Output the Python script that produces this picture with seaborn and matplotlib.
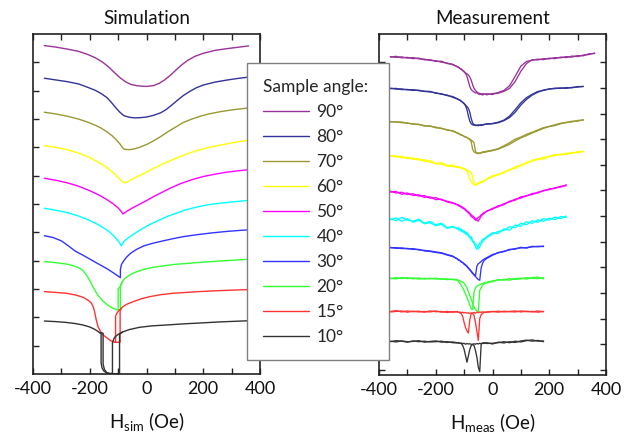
import matplotlib
matplotlib.use("Agg")
import matplotlib.pyplot as plt
from matplotlib.lines import Line2D
from matplotlib.ticker import MultipleLocator, FixedLocator
import numpy as np
import pandas as pd
import seaborn as sns

# ---------------------------------------------------------------- legend / colours
ANGLES = ["90°", "80°", "70°", "60°", "50°", "40°", "30°", "20°", "15°", "10°"]
COLORS = ["#993399", "#333399", "#999933", "#ffff00", "#ff00ff",
          "#00ffff", "#3333ff", "#33ff33", "#ff3333", "#333333"]

# ---------------------------------------------------------------- simulated curves (field in Oe, signal in offset units)
sim90_h = [-360, -320, -280, -240, -210, -180, -155, -135, -115, -95, -75, -55, -30, 0,
           25, 45, 65, 85, 105, 125, 145, 170, 200, 240, 280, 320, 360]
sim90_s = [11.59, 11.54, 11.47, 11.39, 11.29, 11.16, 11.01, 10.85, 10.66, 10.47, 10.32, 10.22, 10.17, 10.15,
           10.18, 10.26, 10.39, 10.55, 10.74, 10.92, 11.07, 11.21, 11.32, 11.42, 11.48, 11.53, 11.58]

sim80_h = [-360, -320, -280, -240, -210, -180, -160, -140, -125, -110, -95, -80, -60, -40, -20, 0,
           25, 50, 70, 90, 110, 130, 150, 175, 200, 240, 280, 320, 360]
sim80_s = [10.44, 10.38, 10.32, 10.24, 10.13, 10.01, 9.9, 9.76, 9.6, 9.42, 9.25, 9.12, 9.06, 9.04, 9.05, 9.07,
           9.13, 9.22, 9.34, 9.5, 9.67, 9.83, 9.96, 10.1, 10.2, 10.3, 10.37, 10.43, 10.48]

sim70_h = [-360, -320, -280, -240, -210, -180, -160, -140, -120, -105, -92, -82, -78, -60, -45, -25, 0,
           25, 50, 75, 100, 130, 160, 190, 220, 260, 300, 340, 360]
sim70_s = [9.24, 9.18, 9.1, 9.0, 8.9, 8.78, 8.68, 8.55, 8.4, 8.25, 8.1, 7.96, 7.93, 7.92, 7.94, 8.0, 8.1,
           8.23, 8.38, 8.55, 8.7, 8.88, 9.0, 9.1, 9.18, 9.26, 9.32, 9.37, 9.39]

sim60_h = [-360, -320, -280, -240, -200, -170, -145, -125, -110, -98, -88, -80, -74, -60, -40, -15,
           10, 40, 70, 100, 130, 160, 200, 240, 280, 320, 360]
sim60_s = [8.06, 8.0, 7.92, 7.8, 7.64, 7.48, 7.32, 7.17, 7.04, 6.92, 6.81, 6.76, 6.75, 6.83, 6.93, 7.05,
           7.18, 7.33, 7.47, 7.6, 7.72, 7.83, 7.95, 8.04, 8.12, 8.19, 8.25]

sim50_h = [-360, -320, -280, -240, -200, -170, -140, -115, -100, -90, -83, -70, -50, -25, 0,
           30, 60, 90, 120, 160, 200, 240, 280, 320, 360]
sim50_s = [6.91, 6.84, 6.75, 6.63, 6.47, 6.33, 6.16, 5.99, 5.86, 5.75, 5.65, 5.74, 5.86, 5.99, 6.12,
           6.29, 6.44, 6.59, 6.72, 6.86, 6.97, 7.05, 7.12, 7.17, 7.21]

sim40_h = [-360, -320, -280, -240, -200, -170, -145, -125, -110, -100, -93, -89, -85, -78, -65, -45, -20,
           10, 40, 70, 100, 140, 180, 220, 260, 300, 360]
sim40_s = [5.85, 5.78, 5.7, 5.58, 5.42, 5.27, 5.12, 4.97, 4.82, 4.7, 4.6, 4.52, 4.6, 4.7, 4.8, 4.94, 5.1,
           5.27, 5.41, 5.55, 5.66, 5.8, 5.9, 5.98, 6.03, 6.07, 6.13]

sim30_h = [-360, -330, -300, -275, -250, -225, -195, -165, -140, -118, -105, -92, -92, -88, -80, -70, -55,
           -35, -10, 20, 50, 90, 130, 180, 230, 280, 330, 360]
sim30_s = [4.88, 4.82, 4.7, 4.52, 4.33, 4.2, 4.03, 3.86, 3.72, 3.58, 3.49, 3.4, 3.7, 3.87, 4.0, 4.13, 4.27,
           4.4, 4.52, 4.61, 4.68, 4.77, 4.85, 4.92, 4.98, 5.03, 5.07, 5.09]

# low angles switch irreversibly: a full sweep plus the part of the return sweep that differs
sim20_h = [-360, -320, -282, -260, -240, -225, -212, -200, -190, -180, -168, -153, -135, -118, -105, -100,
           -100, -96, -92, -86, -78, -70, -55, -35, -10, 20, 60, 100, 150, 200, 260, 310, 360]
sim20_s = [3.97, 3.93, 3.88, 3.83, 3.76, 3.66, 3.5, 3.3, 3.1, 2.92, 2.74, 2.57, 2.42, 2.32, 2.27, 2.26,
           3.0, 3.05, 3.1, 3.25, 3.36, 3.42, 3.52, 3.61, 3.69, 3.76, 3.82, 3.87, 3.91, 3.95, 3.99, 4.02, 4.05]
sim20_ret_h = [-86, -92, -92, -100]
sim20_ret_s = [3.25, 3.1, 2.26, 2.26]

sim15_h = [-360, -320, -282, -250, -224, -205, -194, -187, -183, -178, -171, -162, -153, -140, -130, -120,
           -112, -109, -109, -103, -95, -88, -83, -70, -48, -20, 11, 50, 93, 140, 187, 250, 300, 360]
sim15_s = [2.91, 2.88, 2.85, 2.79, 2.71, 2.6, 2.5, 2.35, 2.2, 1.95, 1.67, 1.5, 1.38, 1.28, 1.2, 1.15,
           1.12, 1.15, 2.05, 2.17, 2.26, 2.33, 2.38, 2.46, 2.55, 2.65, 2.73, 2.8, 2.85, 2.88, 2.91, 2.94, 2.96, 2.98]
sim15_ret_h = [-88, -93, -93, -112]
sim15_ret_s = [2.33, 2.24, 1.12, 1.12]

sim10_h = [-360, -320, -282, -250, -224, -200, -183, -172, -165, -160, -160, -157, -150, -140, -130, -124,
           -120, -120, -116, -112, -100, -83, -60, -24, 20, 70, 130, 187, 260, 310, 360]
sim10_s = [1.87, 1.85, 1.82, 1.78, 1.73, 1.66, 1.58, 1.51, 1.46, 1.42, 0.4, 0.22, 0.1, 0.04, 0.02, 0.02,
           0.05, 1.1, 1.22, 1.3, 1.4, 1.49, 1.57, 1.65, 1.7, 1.73, 1.77, 1.8, 1.84, 1.86, 1.88]
sim10_ret_h = [-83, -95, -95, -105, -125, -140, -148, -153, -153, -165]
sim10_ret_s = [1.49, 1.41, 0.03, 0.01, 0.0, 0.05, 0.15, 0.35, 1.44, 1.46]

# ---------------------------------------------------------------- measured loops (two sweep directions)
meas_field = [-360, -340, -320, -300, -280, -260, -240, -220, -200, -180, -160, -140,
              -125, -120, -115, -110, -105, -100, -95, -90, -85, -80, -75, -70, -65, -60, -55, -50, -45, -40, -35, -30,
              -20, 0, 20, 40, 60, 80, 100, 120, 140, 160, 180, 200, 220, 240, 260, 280, 300, 320, 340, 360]

meas90_a = [12.22, 12.19, 12.21, 12.16, 12.18, 12.13, 12.12, 12.07, 12.06, 12.0, 11.97, 11.9,
            11.84, 11.8, 11.77, 11.72, 11.69, 11.62, 11.56, 11.45, 11.25, 11.05, 10.93, 10.88, 10.84, 10.8,
            10.82, 10.76, 10.79, 10.74, 10.78, 10.75,
            10.77, 10.74, 10.82, 10.9, 11.08, 11.45, 11.85, 12.03, 12.08, 12.12, 12.1, 12.16, 12.14, 12.2,
            12.18, 12.24, 12.22, 12.28, 12.3, 12.36]
meas90_b = [12.2, 12.23, 12.17, 12.19, 12.14, 12.16, 12.09, 12.1, 12.03, 12.04, 11.95, 11.92,
            11.82, 11.81, 11.75, 11.74, 11.67, 11.64, 11.58, 11.55, 11.5, 11.42, 11.3, 11.12, 10.98, 10.9,
            10.84, 10.8, 10.74, 10.77, 10.72, 10.76,
            10.73, 10.78, 10.79, 10.86, 10.98, 11.25, 11.65, 11.95, 12.1, 12.09, 12.14, 12.13, 12.18, 12.17,
            12.22, 12.2, 12.26, 12.25, 12.33, 12.34]

meas80_a = [10.99, 10.95, 10.96, 10.92, 10.93, 10.89, 10.87, 10.86, 10.79, 10.77, 10.70, 10.66,
            10.58, 10.55, 10.52, 10.48, 10.43, 10.38, 10.3, 10.15, 9.9, 9.7, 9.6, 9.56, 9.54, 9.55,
            9.53, 9.56, 9.54, 9.57, 9.55, 9.58,
            9.58, 9.61, 9.66, 9.74, 9.9, 10.15, 10.42, 10.62, 10.75, 10.86, 10.9, 10.96, 10.97, 11.0,
            10.98, 11.02, 11.03, 11.06]
meas80_b = [10.97, 10.98, 10.93, 10.94, 10.9, 10.91, 10.86, 10.84, 10.81, 10.75, 10.72, 10.63,
            10.57, 10.54, 10.53, 10.47, 10.44, 10.39, 10.33, 10.27, 10.2, 10.05, 9.8, 9.63, 9.57, 9.53,
            9.55, 9.52, 9.55, 9.53, 9.56, 9.56,
            9.6, 9.6, 9.64, 9.72, 9.84, 10.05, 10.33, 10.55, 10.72, 10.83, 10.92, 10.95, 10.99, 10.98,
            11.01, 11.0, 11.05, 11.05]

meas70_a = [9.69, 9.66, 9.67, 9.62, 9.6, 9.57, 9.53, 9.5, 9.47, 9.41, 9.37, 9.31,
            9.24, 9.23, 9.19, 9.17, 9.14, 9.11, 9.09, 9.06, 9.02, 8.98, 8.9, 8.6, 8.5, 8.47,
            8.45, 8.47, 8.44, 8.48, 8.49, 8.51,
            8.53, 8.57, 8.63, 8.74, 8.86, 9.0, 9.08, 9.19, 9.27, 9.36, 9.45, 9.5, 9.56, 9.62,
            9.64, 9.7, 9.7, 9.76]
meas70_b = [9.67, 9.68, 9.64, 9.63, 9.58, 9.58, 9.51, 9.52, 9.44, 9.43, 9.35, 9.33,
            9.25, 9.21, 9.2, 9.15, 9.15, 9.1, 9.08, 9.07, 9.03, 9.0, 8.96, 8.92, 8.86, 8.52,
            8.45, 8.43, 8.46, 8.45, 8.5, 8.48,
            8.51, 8.55, 8.61, 8.7, 8.8, 8.93, 9.05, 9.14, 9.24, 9.33, 9.42, 9.49, 9.53, 9.6,
            9.66, 9.67, 9.73, 9.74]

meas60_a = [8.36, 8.3, 8.33, 8.24, 8.27, 8.18, 8.2, 8.1, 8.05, 8.08, 7.97, 7.99,
            7.9, 7.94, 7.88, 7.9, 7.84, 7.86, 7.8, 7.74, 7.62, 7.45, 7.33, 7.27, 7.24, 7.2,
            7.25, 7.3, 7.27, 7.35, 7.32, 7.4,
            7.44, 7.58, 7.6, 7.72, 7.78, 7.93, 7.95, 8.1, 8.14, 8.24, 8.22, 8.33, 8.36, 8.42,
            8.4, 8.48, 8.47, 8.54]
meas60_b = [8.33, 8.35, 8.27, 8.29, 8.21, 8.24, 8.13, 8.16, 8.04, 8.03, 7.95, 7.93,
            7.92, 7.89, 7.91, 7.86, 7.88, 7.83, 7.82, 7.79, 7.77, 7.73, 7.7, 7.55, 7.3, 7.2,
            7.22, 7.26, 7.32, 7.3, 7.37, 7.36,
            7.46, 7.52, 7.64, 7.68, 7.82, 7.86, 8.0, 8.05, 8.18, 8.2, 8.3, 8.31, 8.4, 8.38,
            8.45, 8.44, 8.52, 8.5]

meas50_a = [6.97, 6.9, 6.93, 6.84, 6.87, 6.78, 6.8, 6.7, 6.72, 6.63, 6.58, 6.52,
            6.45, 6.44, 6.37, 6.38, 6.3, 6.31, 6.22, 6.2, 6.12, 6.08, 5.98, 5.95, 5.9, 5.84,
            5.9, 5.95, 5.98, 6.05, 6.08, 6.14,
            6.18, 6.3, 6.36, 6.48, 6.55, 6.66, 6.7, 6.8, 6.84, 6.93, 6.98, 7.06, 7.08, 7.16, 7.18]
meas50_b = [6.93, 6.96, 6.85, 6.9, 6.8, 6.83, 6.73, 6.75, 6.64, 6.66, 6.55, 6.5,
            6.44, 6.4, 6.41, 6.34, 6.35, 6.27, 6.27, 6.18, 6.17, 6.1, 6.05, 6.0, 5.96, 5.9,
            5.83, 5.8, 5.9, 6.0, 6.06, 6.1,
            6.2, 6.27, 6.4, 6.44, 6.58, 6.62, 6.75, 6.78, 6.88, 6.9, 7.0, 7.03, 7.1, 7.13, 7.22]

meas40_a = [5.9, 5.82, 5.95, 5.84, 5.8, 5.88, 5.72, 5.79, 5.66, 5.72, 5.55, 5.6,
            5.5, 5.56, 5.44, 5.5, 5.38, 5.42, 5.3, 5.36, 5.22, 5.18, 5.1, 5.0, 4.95, 4.8,
            4.7, 4.85, 4.95, 4.98, 5.1, 5.06,
            5.2, 5.35, 5.32, 5.5, 5.45, 5.65, 5.6, 5.78, 5.72, 5.85, 5.8, 5.92, 5.86, 5.98, 5.94]
meas40_b = [5.85, 5.93, 5.8, 5.9, 5.76, 5.84, 5.7, 5.74, 5.62, 5.68, 5.52, 5.58,
            5.52, 5.46, 5.5, 5.4, 5.45, 5.34, 5.38, 5.26, 5.3, 5.15, 5.2, 5.05, 5.0, 4.9,
            4.85, 4.72, 4.8, 4.92, 5.0, 5.12,
            5.16, 5.3, 5.4, 5.44, 5.58, 5.55, 5.72, 5.66, 5.82, 5.76, 5.9, 5.84, 5.96, 5.9, 6.0]

meas30_a = [4.78, 4.74, 4.76, 4.72, 4.73, 4.68, 4.66, 4.64, 4.6, 4.57, 4.5, 4.44,
            4.33, 4.3, 4.26, 4.22, 4.18, 4.14, 4.1, 4.05, 3.98, 3.92, 3.85, 3.78, 3.72, 3.66,
            4.05, 4.14, 4.18, 4.23, 4.28, 4.32,
            4.38, 4.5, 4.56, 4.63, 4.68, 4.73, 4.76, 4.77, 4.8, 4.82, 4.81]
meas30_b = [4.76, 4.77, 4.73, 4.74, 4.7, 4.7, 4.64, 4.62, 4.58, 4.55, 4.48, 4.42,
            4.34, 4.28, 4.27, 4.2, 4.19, 4.12, 4.08, 4.03, 3.96, 3.9, 3.83, 3.76, 3.7, 3.64,
            3.58, 3.52, 3.5, 3.98, 4.16, 4.26,
            4.35, 4.47, 4.58, 4.61, 4.7, 4.71, 4.78, 4.75, 4.82, 4.8, 4.83]

meas20_a = [3.58, 3.55, 3.6, 3.56, 3.59, 3.54, 3.57, 3.55, 3.58, 3.53, 3.55, 3.52,
            3.5, 3.45, 3.38, 3.3, 3.2, 3.08, 2.95, 2.82, 2.68, 2.52, 2.38, 2.35, 3.05, 3.2,
            3.27, 3.3, 3.33, 3.35, 3.37, 3.4,
            3.42, 3.47, 3.5, 3.53, 3.5, 3.56, 3.58, 3.54, 3.6, 3.62, 3.55]
meas20_b = [3.55, 3.6, 3.56, 3.6, 3.55, 3.59, 3.54, 3.58, 3.54, 3.56, 3.52, 3.54,
            3.52, 3.5, 3.47, 3.45, 3.42, 3.38, 3.3, 3.2, 3.05, 2.9, 2.75, 2.6, 2.45, 2.35,
            2.3, 2.27, 3.1, 3.2, 3.3, 3.35,
            3.4, 3.44, 3.52, 3.5, 3.56, 3.53, 3.55, 3.6, 3.57, 3.56, 3.6]

meas15_a = [2.28, 2.31, 2.26, 2.3, 2.27, 2.29, 2.25, 2.3, 2.27, 2.28, 2.24, 2.27,
            2.26, 2.25, 2.22, 2.2, 2.08, 1.85, 1.65, 1.52, 1.44, 1.95, 2.2, 2.22, 2.24, 2.21,
            2.25, 2.23, 2.26, 2.24, 2.27, 2.25,
            2.26, 2.28, 2.25, 2.29, 2.27, 2.26, 2.3, 2.27, 2.28, 2.25, 2.28]
meas15_b = [2.26, 2.28, 2.3, 2.25, 2.29, 2.26, 2.28, 2.26, 2.3, 2.25, 2.28, 2.25,
            2.28, 2.24, 2.26, 2.23, 2.25, 2.22, 2.24, 2.21, 2.23, 2.2, 2.22, 2.2, 2.12, 1.85,
            1.5, 1.15, 2.0, 2.15, 2.2, 2.24,
            2.25, 2.27, 2.29, 2.26, 2.28, 2.3, 2.26, 2.29, 2.26, 2.3, 2.27]

meas10_a = [1.1, 1.14, 1.12, 1.08, 1.13, 1.1, 1.12, 1.09, 1.1, 1.12, 1.07, 1.09,
            1.06, 1.05, 1.04, 1.03, 0.95, 0.8, 0.55, 0.3, 0.55, 0.8, 0.95, 1.0, 1.02, 1.0,
            1.03, 1.01, 1.04, 1.02, 1.05, 1.03,
            1.06, 1.01, 1.08, 1.05, 1.1, 1.07, 1.13, 1.16, 1.12, 1.15, 1.1]
meas10_b = [1.12, 1.09, 1.13, 1.1, 1.11, 1.14, 1.08, 1.11, 1.13, 1.08, 1.1, 1.06,
            1.05, 1.07, 1.03, 1.05, 1.02, 1.04, 1.0, 1.03, 1.01, 1.02, 1.0, 0.99, 0.95, 0.75,
            0.5, 0.1, -0.07, 1.0, 1.04, 1.06,
            1.03, 1.04, 1.06, 1.1, 1.06, 1.12, 1.09, 1.14, 1.17, 1.12, 1.13]

# ---------------------------------------------------------------- long tables for seaborn
sim_sets = [
    ("90°", [(sim90_h, sim90_s)]),
    ("80°", [(sim80_h, sim80_s)]),
    ("70°", [(sim70_h, sim70_s)]),
    ("60°", [(sim60_h, sim60_s)]),
    ("50°", [(sim50_h, sim50_s)]),
    ("40°", [(sim40_h, sim40_s)]),
    ("30°", [(sim30_h, sim30_s)]),
    ("20°", [(sim20_h, sim20_s), (sim20_ret_h, sim20_ret_s)]),
    ("15°", [(sim15_h, sim15_s), (sim15_ret_h, sim15_ret_s)]),
    ("10°", [(sim10_h, sim10_s), (sim10_ret_h, sim10_ret_s)]),
]
meas_sets = [
    ("90°", meas90_a, meas90_b), ("80°", meas80_a, meas80_b), ("70°", meas70_a, meas70_b),
    ("60°", meas60_a, meas60_b), ("50°", meas50_a, meas50_b), ("40°", meas40_a, meas40_b),
    ("30°", meas30_a, meas30_b), ("20°", meas20_a, meas20_b), ("15°", meas15_a, meas15_b),
    ("10°", meas10_a, meas10_b),
]

rows = []
for angle, branches in sim_sets:
    for b, (h, s) in enumerate(branches):
        assert len(h) == len(s), angle
        for k, (x, y) in enumerate(zip(h, s)):
            rows.append((angle, f"{angle}/{b}", k, x, y))
df_sim = pd.DataFrame(rows, columns=["angle", "branch", "step", "field", "signal"])

rows = []
for angle, ya, yb in meas_sets:
    assert len(ya) == len(yb) <= len(meas_field), angle
    for b, ys in enumerate((ya, yb)):
        for k, (x, y) in enumerate(zip(meas_field, ys)):
            rows.append((angle, f"{angle}/{b}", k, x, y))
df_meas = pd.DataFrame(rows, columns=["angle", "branch", "step", "field", "signal"])

# ---------------------------------------------------------------- figure
sns.set_style("ticks")
plt.rcParams["font.family"] = ["Lato", "DejaVu Sans"]
plt.rcParams["axes.unicode_minus"] = False

fig = plt.figure(figsize=(6.3, 4.34), dpi=100)
ax_sim = fig.add_axes([0.0524, 0.1382, 0.3603, 0.7834])
ax_meas = fig.add_axes([0.6016, 0.1359, 0.3603, 0.7857])

sns.lineplot(data=df_sim, x="field", y="signal", hue="angle", hue_order=ANGLES,
             palette=COLORS, units="branch", estimator=None, sort=False,
             legend=False, linewidth=1.0, ax=ax_sim)
sns.lineplot(data=df_meas, x="field", y="signal", hue="angle", hue_order=ANGLES,
             palette=COLORS, units="branch", estimator=None, sort=False,
             legend=False, linewidth=0.95, ax=ax_meas)

ax_sim.set_ylim(0, 12)
ax_sim.yaxis.set_major_locator(FixedLocator(range(1, 12)))
ax_meas.set_ylim(-0.2, 13.1)
ax_meas.yaxis.set_major_locator(FixedLocator(range(0, 13)))

for ax, title, sub in ((ax_sim, "Simulation", "sim"), (ax_meas, "Measurement", "meas")):
    ax.set_xlim(-400, 400)
    ax.xaxis.set_major_locator(MultipleLocator(200))
    ax.xaxis.set_minor_locator(MultipleLocator(100))
    ax.tick_params(which="both", direction="in", length=4, width=1.0,
                   top=True, bottom=True, labelsize=13, labelleft=False,
                   color="#222222", labelcolor="#111111", pad=5)
    for sp in ax.spines.values():
        sp.set_linewidth(1.2)
        sp.set_color("#222222")
    ax.set_title(title, fontsize=13.5, pad=7, color="#111111")
    ax.set_xlabel("H$_\\mathregular{%s}$ (Oe)" % sub, fontsize=13.5, labelpad=10, color="#111111")
    ax.set_ylabel("")

ax_sim.tick_params(axis="y", left=True, right=False)
ax_meas.tick_params(axis="y", left=True, right=True, labelright=False)

handles = [Line2D([], [], color=c, linewidth=1.0) for c in COLORS]
leg = fig.legend(handles, ANGLES, title="Sample angle:", loc="upper left",
                 bbox_to_anchor=(0.392, 0.173, 0.2254, 0.682), mode="expand",
                 borderaxespad=0, fontsize=12.5, title_fontsize=12.5,
                 handlelength=2.7, handletextpad=0.4, labelspacing=0.52,
                 borderpad=0.9, alignment="left", frameon=True, fancybox=False,
                 framealpha=1, edgecolor="#808080", facecolor="white")
leg.get_frame().set_linewidth(1.0)

fig.savefig("out.png", dpi=100)
